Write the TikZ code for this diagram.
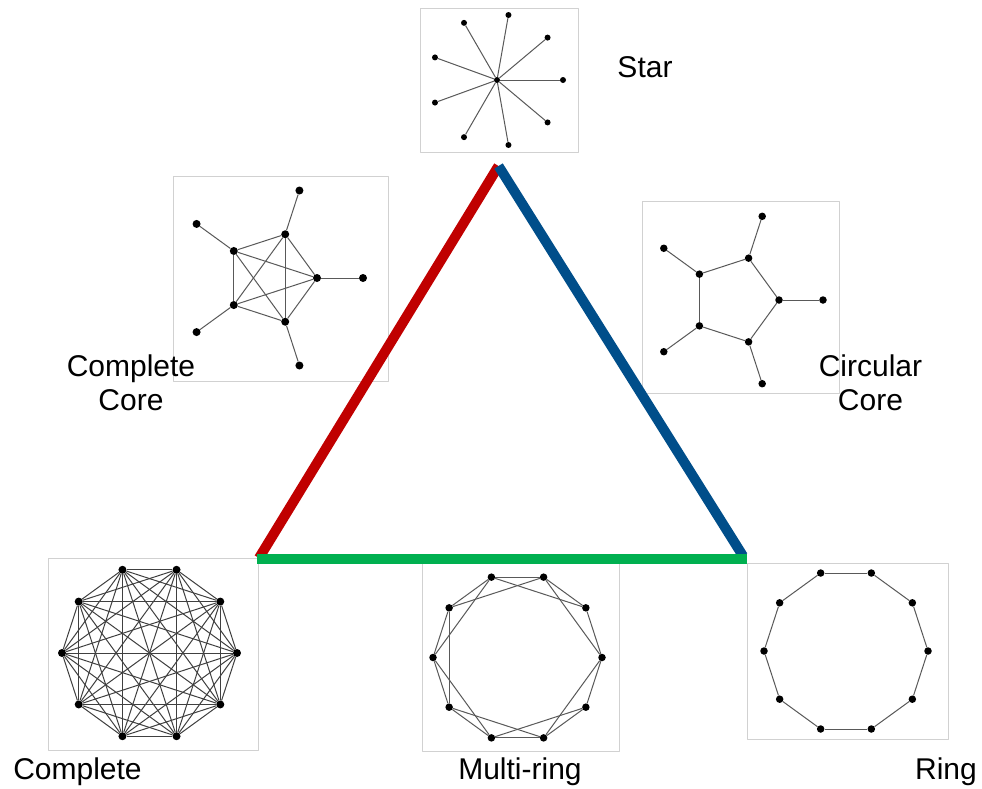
\documentclass[tikz,border=0pt]{standalone}
\usepackage{fontspec}
\setmainfont{Liberation Sans}
\usetikzlibrary{positioning}
\definecolor{sidered}{RGB}{192,0,0}
\definecolor{sideblue}{RGB}{0,78,138}
\definecolor{sidegreen}{RGB}{0,176,80}

\begin{document}
\begin{tikzpicture}[x=1pt,y=-1pt,line join=round]
	\tikzstyle{frame}=[draw=black!18,line width=0.8pt,fill=white]
	\tikzstyle{dot}=[circle,fill=black,draw=none,inner sep=0pt,minimum size=7.5pt]
	\tikzstyle{link}=[draw=black!65,line width=1pt]
	\tikzstyle{label}=[font=\fontsize{30}{34}\selectfont,align=center,inner sep=0pt]
	\tikzstyle{side}=[line width=10pt,line cap=butt]
	
	\useasboundingbox (0,0) rectangle (982,788);
	
	% frames
	\draw[frame] (420,8) rectangle (578,152);
	\draw[frame] (173,176) rectangle (388,381);
	\draw[frame] (642,201) rectangle (839,393);
	\draw[frame] (48,558) rectangle (258,750);
	\draw[frame] (422,562) rectangle (619,751);
	\draw[frame] (747,563) rectangle (948,739);
	
	% star
	\node[dot,minimum size=6pt] (st0) at (497,80) {};
	\foreach \i in {1,...,9}
		\node[dot,minimum size=6pt] (st\i) at ([shift={(\i*40-40:66)}]st0) {};
	\foreach \i in {1,...,9}
		\path[link] (st0) edge (st\i);
	
	% complete core
	\coordinate (cc) at (271,278);
	\foreach \i in {1,...,5} {
		\node[dot,minimum size=8pt] (cc\i) at ([shift={(\i*72-72:46)}]cc) {};
		\node[dot,minimum size=8pt] (ccl\i) at ([shift={(\i*72-72:92)}]cc) {};
	}
	\foreach \i in {1,...,5}
		\path[link] (cc\i) edge (ccl\i);
	\foreach \i [evaluate=\i as \n using int(\i+1)] in {1,...,4}
		\foreach \j in {\n,...,5}
			\path[link] (cc\i) edge (cc\j);
	
	% circular core
	\coordinate (rc) at (735,300);
	\foreach \i in {1,...,5} {
		\node[dot] (rc\i) at ([shift={(\i*72-72:44)}]rc) {};
		\node[dot] (rcl\i) at ([shift={(\i*72-72:88)}]rc) {};
	}
	\foreach \i [remember=\i as \p (initially 5)] in {1,...,5} {
		\path[link] (rc\i) edge (rcl\i);
		\path[link] (rc\p) edge (rc\i);
	}
	
	% complete
	\coordinate (kn) at (149.5,653);
	\foreach \i in {1,...,10}
		\node[dot,minimum size=8pt] (kn\i) at ([shift={(\i*36-36:87.5)}]kn) {};
	\foreach \i [evaluate=\i as \n using int(\i+1)] in {1,...,9}
		\foreach \j in {\n,...,10}
			\path[link,draw=black!75] (kn\i) edge (kn\j);
	
	% multi-ring
	\coordinate (mr) at (517.5,657.5);
	\foreach \i in {1,...,10}
		\node[dot] (mr\i) at ([shift={(\i*36-36:84.5)}]mr) {};
	\foreach \i [remember=\i as \p (initially 10)] in {1,...,10}
		\path[link] (mr\p) edge (mr\i);
	\foreach \i/\j in {1/3,2/4,3/5,4/6,5/7,6/8,7/9,8/10,9/1}
		\path[link] (mr\i) edge (mr\j);
	
	% ring
	\coordinate (rg) at (846,651);
	\foreach \i in {1,...,10}
		\node[dot] (rg\i) at ([shift={(\i*36-36:82)}]rg) {};
	\foreach \i [remember=\i as \p (initially 10)] in {1,...,10}
		\path[link] (rg\p) edge (rg\i);
	
	% triangle
	\coordinate (tl) at (259,558);
	\coordinate (tt) at (498.5,166);
	\coordinate (tr) at (743,556);
	\coordinate (bl) at (257,558.5);
	\coordinate (br) at (747,558.5);
	\draw[side,sidered] (tl) -- (tt);
	\draw[side,sideblue] (tt) -- (tr);
	\draw[side,sidegreen] (bl) -- (br);
	
	% labels
	\node[label,anchor=base] (starlbl) at (645,77) {Star};
	\node[label] (cclbl) at (131,383) {Complete\\Core};
	\node[label] (rclbl) at (870.5,383) {Circular\\Core};
	\node[label,anchor=base] (knlbl) at (77.5,779) {Complete};
	\node[label,anchor=base] (mrlbl) at (520,779) {Multi-ring};
	\node[label,anchor=base] (rglbl) at (946,779) {Ring};
\end{tikzpicture}
\end{document}
